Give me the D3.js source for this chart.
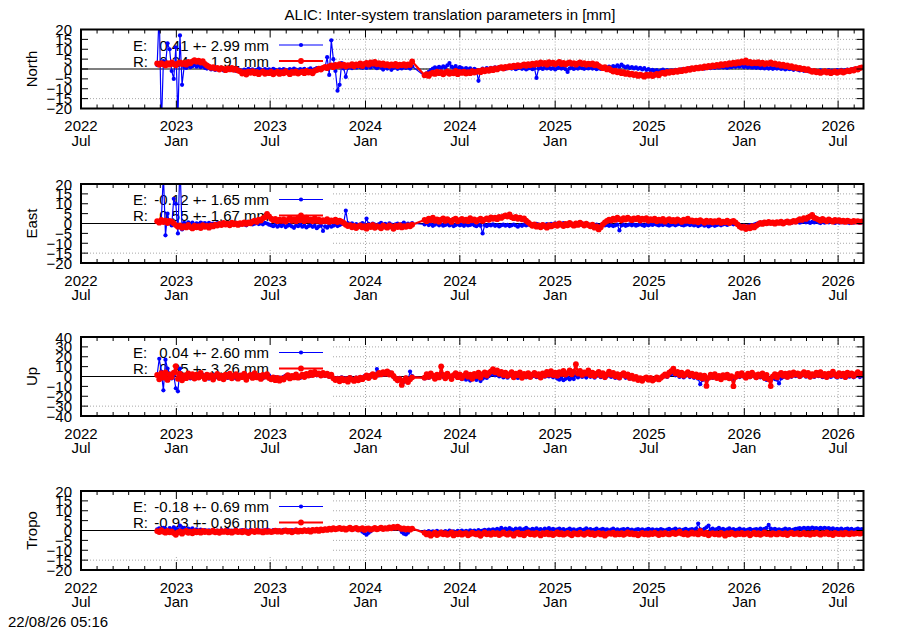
<!DOCTYPE html>
<html><head><meta charset="utf-8">
<script src="https://cdn.jsdelivr.net/npm/d3@7"></script>
<style>
body{margin:0;background:#fff}
svg{display:block}
text{font-family:"Liberation Sans",Arial,Helvetica,sans-serif;font-size:15px;fill:#000}
</style>
</head><body>
<svg id="c" width="900" height="630"></svg>
<script>
// ---------------- data ----------------
const title = "ALIC: Inter-system translation parameters in [mm]";
const stamp = "22/08/26 05:16";
const panelNames = ["North", "East", "Up", "Tropo"];
const yLimits = [20, 20, 40, 20];
const yTickSteps = [5, 5, 10, 5];
const legendE = ["0.41 +- 2.99 mm", "-0.12 +- 1.65 mm", "0.04 +- 2.60 mm", "-0.18 +- 0.69 mm"];
const legendR = ["0.24 +- 1.91 mm", "0.55 +- 1.67 mm", "0.35 +- 3.26 mm", "-0.93 +- 0.96 mm"];
const xStart = "2022-07-01", xEnd = "2026-08-19";
// sampling: values every 4 days; null marks the data gap (second segment start)
const segmentStarts = ["2022-11-25", "2024-04-24"];
const stepDays = 4;

const northE = [
2.0,30,-30,4.0,2.0,13.0,10.0,-1.0,-5.0,11.0,
-25,17.0,-8.0,1.0,0.5,1.6,0.9,1.4,2.1,1.2,
1.8,0.9,1.5,0.6,0.2,0.8,-0.2,0.4,-0.5,0.1,
-0.4,0.3,-0.7,0.0,-0.3,0.5,-0.6,0.2,-0.9,-0.1,
-0.5,-1.2,-0.3,-0.8,0.1,-0.6,-0.2,-1.0,-0.4,0.2,
-0.3,-0.9,0.0,-0.5,-0.2,-0.8,0.1,-0.4,-1.1,-0.2,
-0.6,0.0,-0.4,-0.9,-0.1,-0.5,0.2,-0.3,-0.8,0.0,
-0.4,0.1,-0.6,-0.2,0.3,-0.5,0.0,0.4,-0.2,0.6,
0.2,1.0,6.0,-3.0,14.5,5.0,-1.0,-11.0,-8.0,3.0,
0.3,-4.0,0.5,1.0,0.4,1.3,0.7,1.5,0.9,0.6,
1.2,0.5,1.6,0.8,1.9,1.1,0.4,1.4,0.7,-0.3,
0.9,0.2,1.2,-0.4,0.6,1.0,0.1,0.8,0.3,1.1,
0.5,0.9,0.2,1.4,
null,
-3.5,-2.2,-1.5,-0.6,0.2,0.8,0.3,1.1,0.5,1.4,
0.7,1.9,3.0,1.2,0.6,1.5,0.2,0.9,0.4,-0.3,
0.5,-0.2,0.3,-0.6,0.1,-0.4,-6.0,-0.8,0.2,-0.5,
0.4,-0.3,0.6,0.0,0.8,0.2,1.0,0.3,0.7,0.1,
0.5,0.9,0.2,0.6,-0.1,0.4,0.8,0.1,0.5,-0.2,
0.3,0.7,-0.1,0.4,-4.5,0.2,0.6,0.0,0.9,0.3,
0.7,0.1,0.5,-0.2,0.4,0.8,0.2,0.6,-0.1,-1.5,
0.3,0.7,0.0,0.5,0.2,0.9,0.4,0.1,0.6,0.3,
0.8,0.2,0.5,-0.1,0.4,0.0,0.6,0.9,0.3,1.2,
0.7,1.5,0.9,1.8,1.1,2.2,1.4,0.8,1.3,0.5,
1.0,0.3,0.8,0.1,0.6,-0.2,0.4,-0.5,0.0,-0.8,
-0.4,-1.1,-0.6,-1.3,-0.8,-0.3,-1.0,-0.5,-1.2,-0.7,
-0.9,-0.4,-1.1,-0.6,-0.2,-0.7,0.1,-0.3,0.4,0.0,
0.5,0.1,0.7,0.3,0.8,0.2,0.6,1.0,0.4,0.9,
0.5,1.1,0.7,1.3,0.8,1.0,0.6,1.2,0.9,1.5,
1.1,1.6,1.2,1.8,1.0,1.4,0.8,1.3,0.7,1.1,
0.6,1.0,0.4,0.8,0.3,0.7,0.2,0.6,0.1,0.5,
0.2,0.6,0.0,0.4,-0.2,0.3,-0.1,0.2,-0.4,0.0,
-0.3,-0.7,-0.2,-0.9,-0.5,-1.1,-0.6,-1.3,-0.8,-1.0,
-1.2,-0.7,-1.4,-0.9,-1.1,-0.6,-1.3,-0.8,-1.0,-0.5,
-0.9,-0.4,-1.1,-0.6,-0.3,-0.8,-0.2,0.1,-0.4,0.3,
0.6,0.9];

const northR = [
2.8,2.1,3.0,2.4,1.8,2.9,2.2,3.3,2.6,1.9,
2.7,3.4,2.5,3.1,2.2,3.6,2.9,3.8,4.5,3.7,
4.2,3.3,4.0,2.6,1.8,1.2,0.6,1.0,0.2,0.5,
-0.3,0.4,0.1,-0.6,0.3,-0.2,0.6,-0.4,0.0,-0.8,
-1.2,-2.3,-1.6,-2.8,-1.4,-1.9,-1.1,-2.2,-1.5,-2.6,
-1.8,-1.2,-2.4,-1.7,-2.1,-1.3,-2.7,-1.9,-1.4,-2.5,
-1.6,-2.2,-1.1,-1.8,-2.6,-1.5,-2.0,-1.2,-2.3,-1.7,
-1.4,-2.1,-1.0,-1.8,-1.3,-2.2,-0.9,-0.5,0.2,-0.3,
0.6,1.1,0.4,1.3,1.8,0.9,2.1,1.5,2.4,1.6,
2.2,1.3,2.0,1.7,2.5,1.4,2.3,1.9,2.8,1.5,
2.6,3.1,2.2,3.4,2.7,3.6,2.4,3.0,2.1,2.8,
1.9,2.5,1.6,2.3,1.8,2.6,1.5,2.2,1.9,2.4,
1.7,2.3,2.0,3.8,
null,
-3.2,-2.6,-3.5,-2.4,-1.8,-2.5,-1.3,-2.1,-1.6,-2.7,
-1.9,-1.2,-2.4,-1.7,-2.2,-1.0,-2.6,-1.5,-2.0,-1.3,
-2.3,-1.6,-2.1,-1.1,-1.8,-1.4,-0.9,-1.6,-0.5,-1.2,
-0.4,-0.9,0.1,-0.6,0.3,-0.2,0.5,0.9,0.2,1.1,
0.7,1.4,0.9,1.7,1.2,2.0,1.4,1.8,2.3,1.6,
2.4,1.9,2.7,2.1,2.9,2.4,3.3,2.6,3.1,2.2,
3.5,2.7,3.2,2.4,3.0,3.6,2.5,3.1,2.3,2.9,
3.4,2.6,3.0,2.2,2.8,3.3,2.5,2.9,2.1,2.7,
2.3,2.8,1.9,2.4,1.6,1.0,0.4,0.9,-0.2,0.3,
-0.6,-1.3,-0.8,-1.7,-1.2,-2.1,-1.6,-2.5,-2.0,-2.8,
-2.3,-3.1,-2.6,-3.5,-2.8,-3.3,-3.9,-2.9,-3.4,-2.7,
-3.6,-3.0,-2.5,-3.2,-2.2,-1.8,-2.4,-1.5,-1.9,-1.2,
-1.7,-1.0,-1.4,-0.6,-1.1,-0.3,-0.8,0.1,-0.4,0.4,
0.0,0.7,0.3,1.0,0.5,1.3,0.8,1.6,1.1,1.8,
1.4,2.1,1.6,2.4,1.9,2.6,2.2,2.9,2.5,3.2,
2.7,3.5,3.0,3.8,3.3,4.3,3.1,3.6,2.8,3.4,
2.9,3.5,2.6,3.2,2.4,3.0,2.7,3.3,2.5,2.8,
2.1,2.5,1.7,2.2,1.4,1.8,1.0,1.4,0.6,0.9,
0.3,0.6,-0.1,0.2,-0.5,-0.1,-0.9,-1.4,-1.0,-1.7,
-1.3,-2.0,-1.5,-1.1,-1.8,-1.4,-2.1,-1.6,-1.2,-1.9,
-1.5,-1.1,-1.8,-1.3,-0.8,-1.2,-0.4,-0.8,0.1,-0.3,
0.5,0.8];

const eastE = [
1.0,0.5,2.0,25,-6.0,5.0,0.0,-1.0,12.5,10.0,
-5.0,30,-3.0,0.3,-0.4,0.6,-0.2,0.4,-0.6,0.1,
-0.3,0.5,-0.1,0.2,-0.5,0.3,-0.2,0.0,-0.7,0.2,
-0.4,0.1,-0.6,0.3,-0.2,-0.8,0.0,-0.5,0.2,-0.3,
-0.6,0.1,-0.4,-0.9,-0.2,0.3,-0.5,-0.1,0.2,-0.3,
0.1,-0.4,0.3,0.0,-0.6,-0.9,-1.4,-0.7,-1.6,-1.0,
-1.3,-0.6,-1.8,-1.1,-0.8,-1.5,-2.2,-1.0,-1.4,-0.7,
-1.6,-1.1,-2.0,-1.3,-0.9,-1.7,-1.2,-2.4,-1.5,-1.0,
-3.8,-1.4,-2.1,-0.9,-1.6,-1.1,-0.6,-1.3,-0.8,-0.3,
0.4,6.5,0.2,-0.5,0.1,-0.8,-0.3,-1.1,-0.4,0.2,
-0.6,2.5,-0.2,-0.9,0.0,-0.5,-1.2,-0.3,0.3,-0.7,
-0.2,-1.0,0.1,-0.6,-1.4,-0.4,0.0,-0.8,-0.3,0.4,
-0.5,-0.1,-0.9,0.2,
null,
-0.5,0.2,-0.8,-0.3,-1.2,-0.6,0.1,-0.9,-0.4,-1.1,
-0.7,-0.2,-1.0,-0.5,-1.3,-0.8,-0.3,-0.9,-0.6,-1.2,
-0.4,-1.0,-0.7,-0.2,-0.9,-1.4,-0.6,-1.1,-5.0,-0.8,
-1.3,-0.7,-1.0,-0.4,-1.2,-0.8,-1.5,-0.9,-0.6,-1.1,
-0.7,-1.3,-0.9,-0.5,-1.0,-1.6,-0.8,-1.2,-0.6,-1.0,
-0.5,-0.9,-0.3,-0.7,-0.2,-0.6,-1.0,-0.4,-0.8,-0.3,
-0.7,-0.2,-0.5,0.1,-0.4,-0.8,-0.3,0.2,-0.6,-0.1,
-0.5,0.0,-0.4,-0.9,-0.2,-0.6,0.1,-0.3,-0.7,-0.4,
-0.8,-0.3,-1.1,-0.6,-1.4,-0.9,-0.5,-1.0,-0.7,-1.2,
-0.8,-1.3,-0.9,-0.5,-3.5,-1.0,-0.6,-1.2,-0.8,-0.4,
-0.9,-0.5,-1.1,-0.7,-0.3,-0.8,-1.2,-0.6,-0.9,-0.4,
-0.7,-0.2,-0.6,-1.0,-0.5,-0.8,-0.3,-0.7,-1.1,-0.6,
-0.4,-0.9,-0.5,-0.2,-0.7,-1.0,-0.6,-0.3,-0.8,-0.5,
-1.0,-0.6,-1.3,-0.8,-0.4,-1.1,-0.7,-1.5,-0.9,-0.6,
-1.2,-0.8,-0.4,-0.9,-0.5,-0.2,-0.7,-0.3,0.1,-0.4,
0.0,-0.5,-0.9,-1.4,-1.0,-1.7,-1.2,-0.8,-1.3,-0.6,
-0.2,0.2,-0.1,0.4,0.0,0.5,0.1,0.6,0.2,-0.1,
0.3,0.7,0.2,0.5,0.9,0.4,0.8,0.3,1.0,0.6,
0.9,0.4,0.7,1.1,0.6,0.9,0.3,0.8,0.5,1.0,
0.6,0.2,0.8,0.4,0.9,0.5,1.1,0.7,0.3,0.8,
0.4,0.9,0.5,1.0,0.6,0.2,0.7,0.4,0.8,0.5,
0.3,0.6];

const eastR = [
1.2,0.4,1.8,0.7,1.5,0.2,1.3,0.9,0.1,-0.8,
-1.6,-0.9,-2.2,-1.3,-2.0,-0.7,-1.8,-2.5,-1.1,-1.9,
-1.4,-2.3,-0.8,-1.7,-1.2,-2.1,-0.9,-1.5,-0.6,-1.0,
-0.2,-0.8,0.3,-0.5,-0.1,-0.9,0.4,-0.4,0.1,-0.7,
0.2,-0.3,0.6,-0.2,0.5,0.1,0.9,1.4,0.8,1.9,
1.5,2.6,3.2,4.8,3.6,2.4,1.7,2.3,1.2,1.9,
1.3,2.1,1.0,1.8,2.8,1.4,2.2,1.1,3.0,1.6,
2.4,1.2,2.9,1.5,2.0,1.1,2.6,1.3,1.9,0.9,
1.7,1.2,2.2,0.8,1.6,1.1,1.9,0.7,1.4,0.9,
0.3,-0.6,-1.3,-0.8,-1.9,-1.2,-2.3,-1.5,-0.9,-2.0,
-1.4,-2.6,-1.1,-1.8,-0.7,-2.2,-1.3,-1.7,-2.4,-1.0,
-1.6,-2.1,-0.9,-1.5,-2.7,-1.2,-1.8,-0.8,-2.0,-1.3,
-1.7,-0.9,-1.4,-0.6,
null,
1.8,1.2,2.4,1.6,2.9,1.4,2.1,0.9,1.9,2.6,
1.3,2.2,1.5,0.8,1.9,2.5,1.1,1.7,2.3,1.4,
2.0,1.2,2.7,1.6,2.1,1.0,1.8,2.4,1.3,2.0,
2.6,1.9,3.1,2.4,2.9,2.2,3.4,2.8,3.6,4.1,
3.5,4.6,3.2,2.7,3.3,2.4,2.9,2.1,2.6,1.4,
0.6,-0.3,-1.2,-0.5,-1.6,-0.9,-1.9,-0.7,-1.4,-2.1,
-0.8,-1.5,-1.0,-0.4,-1.2,0.1,-0.6,-1.3,-0.2,-0.9,
0.3,-0.5,-1.1,0.0,-0.7,0.4,-0.3,-1.0,-0.1,-0.8,
-1.4,-0.6,-2.1,-1.5,-3.0,-1.9,-0.4,0.6,1.3,2.0,
1.5,2.5,1.8,2.9,2.2,1.6,2.7,2.0,3.0,2.3,
1.7,2.6,2.1,2.8,1.5,2.4,1.9,2.7,1.4,2.2,
1.6,2.5,1.1,1.9,1.4,2.3,0.9,1.7,2.2,1.2,
1.8,1.0,2.1,1.5,0.8,1.9,1.3,2.4,1.1,1.6,
0.9,1.4,0.6,1.7,1.1,0.4,1.5,0.8,1.3,0.5,
1.2,0.7,1.6,0.3,1.0,0.6,1.4,0.2,0.9,1.3,
0.5,-0.4,-1.5,-2.2,-1.6,-2.8,-1.9,-2.4,-1.3,-2.0,
-1.1,-0.4,0.3,-0.2,0.6,0.1,0.8,0.2,0.5,-0.1,
0.7,0.3,0.9,0.0,0.6,1.1,0.4,0.8,1.3,0.9,
1.6,2.2,1.8,2.7,2.3,3.1,3.6,4.3,2.9,2.5,
2.0,1.4,2.3,1.7,1.1,2.1,1.5,0.9,1.8,1.3,
1.7,1.0,1.5,0.8,1.4,1.1,0.7,1.3,0.9,1.2,
0.8,1.1];

const upE = [
2.0,18.0,5.0,-14.0,17.0,8.0,3.0,-2.0,1.0,-12.0,
-15.0,8.0,-1.0,1.5,-0.8,2.1,-1.9,0.6,-0.2,1.3,
-1.4,0.9,2.0,-0.6,1.1,-2.2,0.4,1.7,-1.0,0.3,
1.5,-0.9,0.2,2.3,-1.5,0.8,-0.3,1.6,-2.0,0.5,
-0.7,1.9,0.1,-1.6,1.0,-0.4,2.2,-1.1,0.6,-0.2,
1.4,-1.8,0.7,-0.5,1.2,-1.3,-2.1,-0.6,-2.8,-1.0,
-1.9,-0.4,0.8,-1.2,0.3,-0.7,1.1,-0.2,0.6,-1.5,
0.9,1.6,0.2,2.4,0.7,1.9,3.0,1.2,2.5,0.4,
1.8,0.6,2.2,-0.3,0.9,-1.0,-2.4,-1.3,-3.0,-0.8,
-2.2,-1.5,-3.4,-0.6,-1.8,-2.7,-1.1,-2.3,-0.5,-1.6,
0.3,-0.9,1.0,-0.4,1.6,0.2,7.5,1.1,3.0,1.7,
3.5,2.0,4.4,1.3,-0.5,-2.1,-4.8,-1.4,-3.6,-5.5,
-1.0,-3.9,5.0,0.4,
null,
-2.0,0.5,-1.3,1.4,-0.6,-2.5,0.9,-1.1,3.0,-0.4,
-1.9,0.7,-0.8,-2.3,0.2,1.5,-1.4,0.4,-2.7,-1.0,
-3.2,-1.6,-4.1,-2.4,-0.9,-3.5,-1.8,-4.6,-2.2,-0.7,
-1.5,0.3,1.8,3.0,1.2,2.4,0.1,1.6,-0.9,0.8,
-1.2,0.5,1.9,-0.6,0.9,-1.5,1.3,-0.3,0.6,-1.0,
0.8,-0.5,0.2,1.4,-0.7,0.4,-1.3,0.9,-0.2,1.1,
0.0,1.2,-0.8,0.5,-2.1,-3.3,-1.7,-3.8,-2.4,-1.2,
-3.0,-1.5,-2.6,1.0,-0.9,1.6,-0.4,0.8,-1.1,1.4,
-0.3,0.9,-1.2,0.5,1.8,-0.7,1.1,-1.6,0.2,1.5,
-0.4,0.8,-1.5,0.3,-2.0,0.6,1.2,-1.3,0.4,-2.2,
-0.6,-2.4,-1.1,-3.1,-1.8,-3.7,-2.2,-1.0,-2.9,-1.6,
-3.4,-2.0,-0.8,-2.5,-1.2,-0.3,0.9,-0.5,1.6,2.4,
3.5,1.2,2.0,-0.4,1.5,-0.9,0.7,1.9,-0.6,0.8,
-1.3,0.4,-2.2,-7.8,-3.6,-1.0,-4.5,-1.9,0.2,-1.4,
0.9,-2.0,-0.3,-2.6,0.5,-1.2,1.0,-1.8,-0.4,-4.0,
-1.1,0.8,-0.6,1.5,-0.2,-1.7,0.9,-0.8,1.8,0.1,
-1.6,0.6,-0.9,1.2,-2.4,-3.5,-1.8,-4.1,-1.2,-2.6,
-3.3,-7.0,-2.0,-0.7,0.9,-1.1,1.5,-0.3,1.9,0.4,
1.2,-0.6,0.8,1.9,-0.2,1.4,-1.0,0.7,-0.5,1.6,
0.3,1.8,-0.7,1.0,-1.3,0.6,-0.4,1.5,0.2,-1.1,
0.9,-0.5,1.3,-1.4,0.8,-0.2,1.1,-0.8,0.4,1.0,
-0.6,0.5];

const upR = [
1.5,-2.8,3.4,-1.2,4.1,-3.5,2.2,-0.6,3.8,10.5,
-2.4,2.9,-3.8,1.1,-1.7,3.2,-0.4,2.5,-2.1,1.8,
-1.0,3.6,0.3,-2.6,2.0,-0.8,1.4,-3.1,0.7,2.7,
-1.5,0.9,-2.9,1.9,-0.3,3.0,-1.8,0.5,2.3,-2.2,
1.2,-0.7,2.8,-3.3,0.4,1.6,-1.4,3.3,-0.9,0.8,
-2.5,1.7,-0.2,2.4,-1.6,-2.9,-0.8,-3.7,-1.5,-4.2,
-2.0,-3.1,-0.5,1.3,-1.9,0.6,-0.9,2.1,-1.2,0.2,
1.8,-0.6,2.6,1.0,3.9,1.5,4.6,2.2,3.1,0.9,
3.7,1.4,2.8,0.5,1.9,-1.8,-3.6,-2.4,-4.8,-1.9,
-3.9,-2.6,-5.2,-1.4,-3.1,-4.5,-2.0,-3.8,-1.2,-2.7,
-0.8,1.2,-1.6,0.9,2.3,-0.5,1.7,3.6,2.1,4.4,
2.8,5.1,1.9,3.3,0.6,-1.9,-3.8,-2.5,-8.5,-4.2,
-1.7,-5.6,-2.9,-0.8,
null,
-1.2,2.5,-0.4,3.1,0.8,-2.3,2.0,-0.9,10.2,1.6,
-1.8,2.9,0.3,-2.6,1.4,3.5,-0.7,2.2,-1.5,0.9,
3.3,-0.2,1.8,-2.4,2.7,0.5,3.8,-1.1,2.3,4.2,
0.9,3.6,5.1,7.4,4.3,6.2,2.8,4.7,1.5,3.9,
0.6,2.4,4.5,-0.8,3.0,1.2,4.1,-1.3,2.6,0.4,
3.4,-0.5,1.9,3.7,0.8,2.5,-1.0,3.2,1.1,4.6,
2.0,5.3,1.4,3.8,0.7,4.4,2.6,5.7,1.9,3.5,
6.1,2.3,4.9,12.4,3.0,5.6,1.6,4.2,2.9,6.3,
1.3,3.9,0.5,2.8,4.7,1.0,3.3,-0.6,2.2,5.0,
1.7,3.6,0.2,2.5,-0.9,1.9,3.4,0.6,2.1,-1.4,
0.8,-2.3,-0.5,-3.6,-1.7,-4.4,-2.0,-0.8,-3.2,-1.5,
-4.1,-2.6,-0.9,-3.0,-1.3,0.4,2.1,0.7,3.8,5.5,
8.0,3.2,4.6,1.5,3.9,0.8,2.7,4.3,1.2,3.0,
0.5,2.2,-0.7,1.4,-2.1,0.9,-9.5,-1.3,1.8,-0.4,
2.4,-1.6,0.7,-2.8,1.3,-0.9,2.0,-1.8,0.4,-9.8,
-0.6,2.6,0.8,3.4,1.1,-1.2,2.9,0.3,4.0,1.5,
-0.8,2.2,0.6,3.1,-1.5,1.7,-2.6,-9.7,0.2,2.5,
-0.9,1.8,3.6,0.7,2.9,-0.4,3.3,1.0,4.2,1.9,
3.1,0.4,2.6,4.5,1.2,3.7,-0.3,2.4,0.9,3.9,
1.6,4.3,0.8,2.7,-0.6,3.0,1.4,4.8,2.1,0.3,
3.5,1.1,2.8,-0.5,4.0,1.7,3.2,0.6,2.5,4.4,
1.8,3.0];

const tropoE = [
0.6,1.1,0.3,1.4,0.8,0.2,1.2,0.5,1.6,0.9,
0.4,2.5,0.7,1.3,0.2,0.9,0.5,1.1,0.1,0.6,
0.0,0.4,-0.3,0.2,-0.5,0.1,-0.2,0.3,-0.4,0.0,
-0.3,0.2,-0.6,-0.1,0.3,-0.4,0.0,-0.2,0.4,-0.5,
-0.1,0.2,-0.4,0.1,-0.3,0.3,-0.2,-0.5,0.0,0.2,
-0.3,0.1,-0.2,0.4,-0.1,-0.4,0.2,-0.2,0.1,-0.3,
0.0,0.3,-0.2,0.1,-0.4,0.2,-0.1,0.4,0.0,0.2,
-0.2,0.3,0.0,0.5,0.1,0.4,-0.1,0.6,0.2,0.5,
0.3,0.8,0.4,1.0,0.6,1.2,0.7,1.0,1.3,0.8,
1.1,0.6,0.9,1.3,0.7,1.1,0.5,0.9,0.2,-0.6,
-1.4,-2.1,-1.2,-0.4,0.5,1.0,0.6,1.2,0.8,1.1,
0.7,1.3,0.9,1.4,1.0,1.6,1.2,0.6,-0.8,-1.6,
-2.0,-1.1,0.2,0.8,
null,
-0.6,-1.1,-0.3,-0.8,-0.4,-1.0,-0.2,-0.7,-0.5,-1.2,
-0.3,-0.8,-0.1,-0.6,-0.4,-0.9,-0.2,-0.5,0.0,-0.7,
-0.2,-0.6,0.1,-0.4,-0.1,-0.5,0.2,-0.3,0.0,0.3,
-0.1,0.4,0.1,0.6,0.2,0.8,0.3,1.3,0.5,0.9,
0.4,1.2,0.6,0.2,0.9,0.5,1.1,0.3,0.7,1.4,
0.6,0.2,0.8,0.4,1.1,0.3,0.7,0.1,0.9,0.5,
1.2,0.4,0.8,0.2,0.6,1.0,0.3,0.7,0.1,0.5,
0.9,0.3,0.6,0.0,0.4,0.8,0.2,0.5,1.1,0.3,
0.7,0.2,0.5,0.9,0.1,0.4,0.8,0.3,0.6,0.0,
0.5,0.9,0.2,0.6,0.1,0.4,0.7,0.3,0.8,0.2,
0.5,0.0,0.4,0.7,0.2,0.6,0.1,0.4,0.8,0.3,
0.6,0.1,0.5,0.2,0.7,0.3,0.0,0.4,0.8,0.2,
0.5,0.9,0.3,0.6,0.1,0.4,0.8,0.2,0.5,0.7,
0.3,1.0,3.5,0.6,0.2,0.8,1.6,2.5,0.5,0.9,
0.3,0.7,1.4,0.4,0.8,0.2,0.6,1.1,0.3,0.7,
0.2,0.5,0.9,0.3,0.6,0.1,0.4,0.8,0.2,0.5,
0.7,0.3,0.9,0.4,0.8,1.3,2.8,1.0,0.5,0.8,
0.3,0.6,0.2,0.5,0.9,0.4,0.7,0.1,0.5,0.8,
0.9,1.2,0.8,1.4,1.0,1.3,0.9,1.5,1.1,1.2,
0.8,1.3,1.0,1.4,0.9,1.2,0.7,1.1,0.4,0.8,
0.5,0.9,0.3,0.7,1.0,0.4,0.8,0.2,0.6,0.9,
0.5,0.7];

const tropoR = [
-0.3,-0.8,0.2,-0.6,-1.1,-0.2,-0.9,-0.4,-1.3,-2.2,
-1.0,-0.5,-1.6,-0.7,-0.2,-1.2,-0.6,-1.4,-0.3,-0.9,
-0.5,-1.1,-0.2,-0.8,-0.4,-1.0,-0.6,-0.1,-0.9,-0.5,
-1.2,-0.3,-0.7,-0.2,-0.9,-0.4,-1.1,-0.6,-0.1,-0.8,
-0.4,-0.9,-0.2,-0.7,-1.3,-0.5,-0.3,-0.8,-0.1,-0.6,
-0.4,-1.0,-0.2,-0.7,-0.3,-0.8,-0.5,-0.1,-0.6,-0.2,
-0.7,-0.3,0.1,-0.5,-0.2,-0.9,-0.4,0.0,-0.6,-0.1,
-0.4,0.2,-0.3,0.0,-0.6,0.3,-0.1,0.4,-0.2,0.5,
0.1,0.7,0.3,1.0,0.5,1.2,0.6,0.9,1.3,0.7,
1.1,0.4,0.9,1.4,0.6,1.0,1.3,0.5,0.8,1.2,
0.3,0.9,1.1,0.4,0.8,1.3,0.6,1.0,1.5,0.7,
1.2,0.9,1.6,1.1,1.8,1.4,2.0,1.3,0.8,1.1,
0.5,0.9,0.4,1.0,
null,
-1.2,-2.0,-1.5,-2.6,-1.8,-1.1,-2.3,-1.6,-0.9,-1.9,
-1.4,-2.2,-1.7,-1.0,-2.5,-1.5,-1.9,-1.2,-2.1,-1.6,
-1.3,-2.4,-1.8,-1.1,-1.6,-2.0,-1.4,-2.7,-1.7,-1.0,
-1.9,-1.5,-2.2,-1.2,-1.8,-1.4,-2.3,-1.6,-0.9,-1.7,
-2.1,-1.3,-1.8,-2.6,-1.5,-1.1,-2.0,-1.6,-2.4,-1.4,
-1.0,-1.9,-1.5,-2.2,-1.2,-1.7,-2.5,-1.3,-1.8,-1.1,
-2.0,-1.5,-2.3,-1.6,-1.0,-1.9,-1.4,-2.1,-1.7,-1.2,
-1.8,-2.4,-1.3,-1.6,-2.0,-1.1,-1.7,-2.2,-1.5,-1.0,
-1.9,-1.4,-2.3,-1.6,-1.2,-2.0,-1.5,-2.6,-1.8,-1.3,
-1.7,-1.1,-2.1,-1.5,-1.9,-1.3,-2.2,-1.6,-1.0,-1.8,
-1.4,-2.0,-1.6,-2.4,-1.7,-1.2,-1.9,-1.5,-2.1,-1.3,
-1.8,-1.1,-1.6,-2.3,-1.4,-1.9,-1.2,-1.7,-2.0,-1.5,
-1.1,-1.8,-1.3,-0.6,-1.5,-1.9,-1.2,-2.2,-1.6,-1.0,
-1.7,-1.3,-2.0,-0.2,-1.4,-1.8,-1.1,-2.4,-1.6,-1.3,
-1.9,-1.5,-2.1,-1.2,-1.7,-2.6,-1.4,-1.9,-1.1,-1.6,
-2.2,-1.5,-1.8,-1.2,-2.0,-1.6,-1.3,-2.4,-1.7,-1.1,
-1.9,-1.4,-2.2,-1.6,-1.0,-1.8,-1.5,-2.1,-1.3,-1.7,
-2.0,-1.2,-1.6,-1.9,-1.4,-2.3,-1.5,-1.1,-1.8,-1.6,
-1.3,-2.0,-1.7,-1.2,-1.9,-1.5,-2.2,-1.4,-1.8,-1.1,
-1.6,-2.1,-1.3,-1.7,-1.0,-1.9,-1.5,-2.3,-1.2,-1.6,
-1.8,-1.4,-2.0,-1.1,-1.6,-1.9,-1.3,-1.7,-1.5,-1.2,
-1.6,-1.3];

const seriesE = [northE, eastE, upE, tropoE];
const seriesR = [northR, eastR, upR, tropoR];

// ---------------- drawing ----------------
const svg = d3.select("#c");
const W = 900;
const plotL = 81, plotR = 863.5, plotH = 79;
const panelTops = [29.5, 184, 337, 491];
const colE = "#0000ff", colR = "#ff0000";

const x = d3.scaleUtc().domain([new Date(xStart), new Date(xEnd)]).range([plotL, plotR]);
const majorTicks = d3.utcMonth.every(6).range(new Date(xStart), new Date(xEnd));
const minorTicks = d3.utcMonth.range(new Date(xStart), new Date(xEnd));
const fmtY = d3.utcFormat("%Y"), fmtM = d3.utcFormat("%b");

function toPoints(vals) {
  let seg = 0, k = 0; const out = [];
  for (const v of vals) {
    if (v === null) { seg = 1; k = 0; continue; }
    const d = new Date(segmentStarts[seg]);
    d.setUTCDate(d.getUTCDate() + k * stepDays);
    out.push([d, v]); k++;
  }
  return out;
}

svg.append("text").attr("x", W / 2).attr("y", 20).attr("text-anchor", "middle").text(title);
svg.append("text").attr("x", 8).attr("y", 627).text(stamp);

const defs = svg.append("defs");

panelNames.forEach((name, i) => {
  const top = panelTops[i], bot = top + plotH;
  const lim = yLimits[i];
  const y = d3.scaleLinear().domain([-lim, lim]).range([bot, top]);
  const yt = d3.range(-lim, lim + 0.001, yTickSteps[i]);
  const g = svg.append("g");

  defs.append("clipPath").attr("id", "clip" + i)
    .append("rect").attr("x", plotL).attr("y", top).attr("width", plotR - plotL).attr("height", plotH);

  // grid
  const grid = g.append("g").attr("stroke", "#a8a8a8").attr("stroke-width", 1).attr("stroke-dasharray", "1,2");
  grid.selectAll(".gy").data(yt.filter(v => Math.abs(v) < lim)).join("line")
    .attr("x1", plotL).attr("x2", plotR).attr("y1", d => y(d)).attr("y2", d => y(d));
  grid.selectAll(".gx").data(majorTicks.filter(d => x(d) > plotL + 1)).join("line")
    .attr("x1", d => x(d)).attr("x2", d => x(d)).attr("y1", top).attr("y2", bot);

  // opaque key box
  g.append("rect").attr("x", plotL + 1).attr("y", top + 1).attr("width", 332 - plotL - 1)
    .attr("height", y(-lim * 0.625) - top - 1).attr("fill", "#fff");

  // zero axis
  g.append("line").attr("x1", plotL).attr("x2", plotR).attr("y1", y(0)).attr("y2", y(0))
    .attr("stroke", "#000").attr("stroke-width", 1.2);

  // key texts
  const rowE = top + 21, rowR = top + 37;
  [[rowE, "E:", legendE[i]], [rowR, "R:", legendR[i]]].forEach(([yy, lab, val]) => {
    g.append("text").attr("x", 133).attr("y", yy).text(lab);
    g.append("text").attr("x", 269).attr("y", yy).attr("text-anchor", "end").text(val);
  });

  const line = d3.line().x(d => x(d[0])).y(d => y(d[1]));
  const drawSeries = (vals, col, lw, r, ky) => {
    // key sample
    g.append("line").attr("x1", 279).attr("x2", 323).attr("y1", ky).attr("y2", ky)
      .attr("stroke", col).attr("stroke-width", lw);
    g.append("circle").attr("cx", 301).attr("cy", ky).attr("r", r).attr("fill", col);
    const pts = toPoints(vals);
    const cg = g.append("g").attr("clip-path", `url(#clip${i})`);
    cg.append("path").datum(pts).attr("d", line).attr("fill", "none")
      .attr("stroke", col).attr("stroke-width", lw).attr("stroke-linejoin", "round");
    cg.selectAll("circle").data(pts).join("circle")
      .attr("cx", d => x(d[0])).attr("cy", d => y(d[1])).attr("r", r).attr("fill", col);
  };
  drawSeries(seriesE[i], colE, 1.2, 2.1, rowE - 5.5);
  drawSeries(seriesR[i], colR, 2.2, 2.9, rowR - 5.5);

  // ticks
  const tk = g.append("g").attr("stroke", "#000").attr("stroke-width", 1);
  tk.selectAll(".mn").data(minorTicks).join("g").each(function (d) {
    const s = d3.select(this), xx = x(d);
    const len = (d.getUTCMonth() % 6 === 0) ? 8 : 4;
    s.append("line").attr("x1", xx).attr("x2", xx).attr("y1", bot).attr("y2", bot - len);
    s.append("line").attr("x1", xx).attr("x2", xx).attr("y1", top).attr("y2", top + len);
  });
  tk.selectAll(".yt").data(yt).join("g").each(function (d) {
    const s = d3.select(this), yy = y(d);
    s.append("line").attr("x1", plotL).attr("x2", plotL + 7).attr("y1", yy).attr("y2", yy);
    s.append("line").attr("x1", plotR).attr("x2", plotR - 7).attr("y1", yy).attr("y2", yy);
  });

  // border
  g.append("rect").attr("x", plotL).attr("y", top).attr("width", plotR - plotL).attr("height", plotH)
    .attr("fill", "none").attr("stroke", "#000").attr("stroke-width", 2);

  // y tick labels
  g.selectAll(".yl").data(yt).join("text").attr("x", plotL - 9).attr("y", d => y(d) + 5.5)
    .attr("text-anchor", "end").text(d => d3.format("d")(d));

  // x tick labels
  majorTicks.forEach(d => {
    g.append("text").attr("x", x(d)).attr("y", bot + 22.5).attr("text-anchor", "middle").text(fmtY(d));
    g.append("text").attr("x", x(d)).attr("y", bot + 37).attr("text-anchor", "middle").text(fmtM(d));
  });

  // y axis title
  const cy = top + plotH / 2;
  g.append("text").attr("transform", `translate(37,${cy}) rotate(-90)`).attr("text-anchor", "middle").text(name);
});
</script>
</body></html>
